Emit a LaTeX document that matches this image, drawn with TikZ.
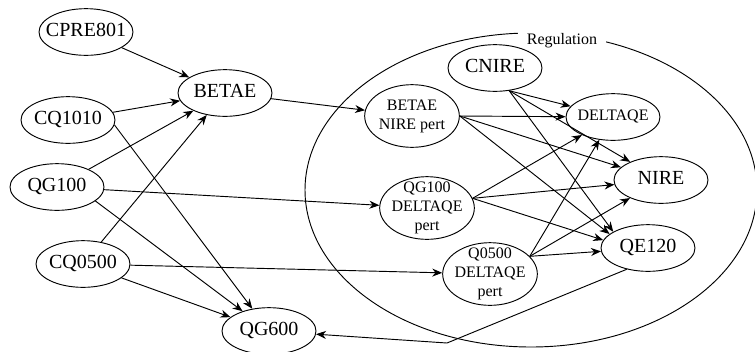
\documentclass[tikz,border=0pt]{standalone}
\usepackage{fontspec}
\setmainfont{Liberation Serif}
\usetikzlibrary{shapes.geometric, arrows.meta}
\newcommand{\vartext}[1]{\smash{\makebox[0pt]{\raisebox{-3pt}{\begin{tabular}{@{}c@{}}#1\end{tabular}}}}}

\begin{document}
\begin{tikzpicture}[x=0.75pt, y=-0.75pt,
    var/.style={ellipse, draw, line width=0.7pt, minimum width=70.5pt, minimum height=35pt,
      inner sep=0pt, font=\fontsize{15}{18}\selectfont},
    pert/.style={var, minimum width=71pt, minimum height=47pt, font=\fontsize{12}{14.25}\selectfont},
    edge/.style={-{Stealth[length=7.5pt,width=6pt]}, line width=0.7pt}]
    \useasboundingbox (0,0) rectangle (755,351);

    % regione
    \draw[line width=0.7pt] (531,190) ellipse [x radius=226, y radius=157];
    \node[fill=white, inner xsep=7pt, inner ysep=2pt, font=\fontsize{12}{14}\selectfont] (reglabel) at (562,41) {Regulation};

    % ingressi
    \node[var] (cpre) at (86,32) {\vartext{CPRE801}};
    \node[var] (betae) at (225,93) {\vartext{BETAE}};
    \node[var] (cq1010) at (68,120) {\vartext{CQ1010}};
    \node[var] (qg100) at (57,187) {\vartext{QG100}};
    \node[var] (cq0500) at (83,264) {\vartext{CQ0500}};
    \node[var] (qg600) at (269,331) {\vartext{QG600}};

    % nodi interni
    \node[var] (cnire) at (495,68) {\vartext{CNIRE}};
    \node[pert] (betaepert) at (412,116) {\vartext{BETAE\\NIRE pert}};
    \node[var, font=\fontsize{12}{14}\selectfont] (deltaqe) at (613,117) {\vartext{DELTAQE}};
    \node[var] (nire) at (661,180) {\vartext{NIRE}};
    \node[pert] (qgpert) at (427,208) {\vartext{QG100\\DELTAQE\\pert}};
    \node[pert] (qpert) at (490,274) {\vartext{Q0500\\DELTAQE\\pert}};
    \node[var] (qe120) at (648,248) {\vartext{QE120}};
    \coordinate (bend) at (447,343);

    % archi a sinistra
    \draw[edge] (cpre) -- (betae);
    \draw[edge] (cq1010) -- (betae);
    \draw[edge] (qg100) -- (betae);
    \draw[edge] (cq0500) -- (betae);
    \draw[edge] (cq1010.-6) -- (qg600);
    \draw[edge] (qg100.-20) -- (qg600);
    \draw[edge] (cq0500) -- (qg600);
    \draw[edge] (betae) -- (betaepert);
    \draw[edge] (qg100) -- (qgpert);
    \draw[edge] (cq0500) -- (qpert);

    % archi nella regione
    \draw[edge] (cnire.-58) -- (deltaqe);
    \draw[edge] (cnire.-58) -- (nire);
    \draw[edge] (cnire.-58) -- (qe120.155);
    \draw[edge] (betaepert.east) -- (deltaqe);
    \draw[edge] (betaepert.east) -- (nire);
    \draw[edge] (betaepert.east) -- (qe120.160);
    \draw[edge] (qgpert.12) -- (deltaqe);
    \draw[edge] (qgpert.12) -- (nire);
    \draw[edge] (qgpert.12) -- (qe120.170);
    \draw[edge] (qpert.24) -- (deltaqe);
    \draw[edge] (qpert.24) -- (nire);
    \draw[edge] (qpert.24) -- (qe120);

    % ritorno
    \draw[edge] (qe120.225) -- (bend) -- (qg600);
\end{tikzpicture}
\end{document}
